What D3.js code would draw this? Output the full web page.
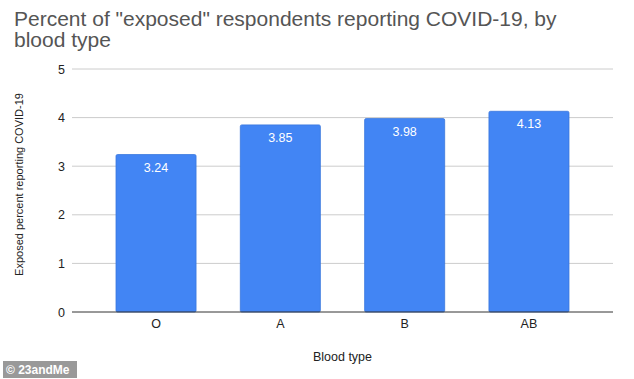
<!DOCTYPE html>
<html>
<head>
<meta charset="utf-8">
<script src="https://cdn.jsdelivr.net/npm/d3@7"></script>
<style>
  body { margin: 0; background: #fff; }
  svg { font-family: "Liberation Sans", Arial, sans-serif; }
</style>
</head>
<body>
<div id="chart"></div>
<script>
// data
const bloodTypes = ['O', 'A', 'B', 'AB'];
const exposedPercent = [3.24, 3.85, 3.98, 4.13];
const yTicks = [0, 1, 2, 3, 4, 5];

const width = 634, height = 379;
const margin = { top: 69, right: 21, bottom: 67, left: 72 };
const w = width - margin.left - margin.right;
const h = height - margin.top - margin.bottom;

const svg = d3.select('#chart').append('svg')
    .attr('width', width)
    .attr('height', height);

// title
const title = svg.append('text')
    .attr('x', 14)
    .attr('fill', '#555')
    .style('font-size', '21px');
title.append('tspan').attr('x', 14).attr('y', 26)
    .text('Percent of "exposed" respondents reporting COVID-19, by');
title.append('tspan').attr('x', 14).attr('y', 47)
    .text('blood type');

const x = d3.scaleBand()
    .domain(bloodTypes)
    .range([0, w])
    .paddingInner(0.356)
    .paddingOuter(0.354);

const y = d3.scaleLinear().domain([0, 5]).range([h, 0]);

const g = svg.append('g')
    .attr('transform', `translate(${margin.left},${margin.top})`);

// gridlines
g.selectAll('.grid').data(yTicks.filter(d => d > 0)).enter().append('line')
    .attr('class', 'grid')
    .attr('x1', 0).attr('x2', w)
    .attr('y1', d => y(d)).attr('y2', d => y(d))
    .attr('stroke', '#ccc')
    .attr('stroke-width', 1);

// y axis
const yAxis = g.append('g')
    .call(d3.axisLeft(y).tickValues(yTicks).tickFormat(d3.format('d')).tickSize(0).tickPadding(7));
yAxis.select('.domain').remove();
yAxis.selectAll('text')
    .attr('fill', '#222')
    .style('font-size', '12.5px')
    .style('font-family', '"Liberation Sans", Arial, sans-serif');

// bars
g.selectAll('.bar').data(exposedPercent).enter().append('rect')
    .attr('class', 'bar')
    .attr('x', (d, i) => x(bloodTypes[i]))
    .attr('y', d => y(d))
    .attr('width', x.bandwidth())
    .attr('height', d => h - y(d))
    .attr('rx', 1.5)
    .attr('fill', '#4285f4')
    .attr('stroke', '#3a77dd')
    .attr('stroke-width', 0.8);

// value labels
g.selectAll('.val').data(exposedPercent).enter().append('text')
    .attr('class', 'val')
    .attr('x', (d, i) => x(bloodTypes[i]) + x.bandwidth() / 2)
    .attr('y', d => y(d) + 17)
    .attr('text-anchor', 'middle')
    .attr('fill', '#fff')
    .style('font-size', '12.5px')
    .text(d => d.toFixed(2));

// baseline
g.append('line')
    .attr('x1', 0).attr('x2', w)
    .attr('y1', h).attr('y2', h)
    .attr('stroke', '#333')
    .attr('stroke-width', 1);

// x axis
const xAxis = g.append('g')
    .attr('transform', `translate(0,${h})`)
    .call(d3.axisBottom(x).tickSize(0).tickPadding(7));
xAxis.select('.domain').remove();
xAxis.selectAll('text')
    .attr('fill', '#222')
    .style('font-size', '12.5px')
    .style('font-family', '"Liberation Sans", Arial, sans-serif');

// axis titles
svg.append('text')
    .attr('x', margin.left + w / 2)
    .attr('y', 361)
    .attr('text-anchor', 'middle')
    .attr('fill', '#222')
    .style('font-size', '12.5px')
    .text('Blood type');

svg.append('text')
    .attr('transform', `translate(23,${margin.top + h / 2 - 6}) rotate(-90)`)
    .attr('text-anchor', 'middle')
    .attr('fill', '#222')
    .style('font-size', '11px')
    .text('Exposed percent reporting COVID-19');

// watermark
svg.append('rect')
    .attr('x', 3).attr('y', 361)
    .attr('width', 74).attr('height', 17)
    .attr('fill', '#999');
svg.append('text')
    .attr('x', 6).attr('y', 374)
    .attr('fill', '#fff')
    .style('font-size', '12px')
    .style('font-weight', 'bold')
    .text('© 23andMe');
</script>
</body>
</html>
